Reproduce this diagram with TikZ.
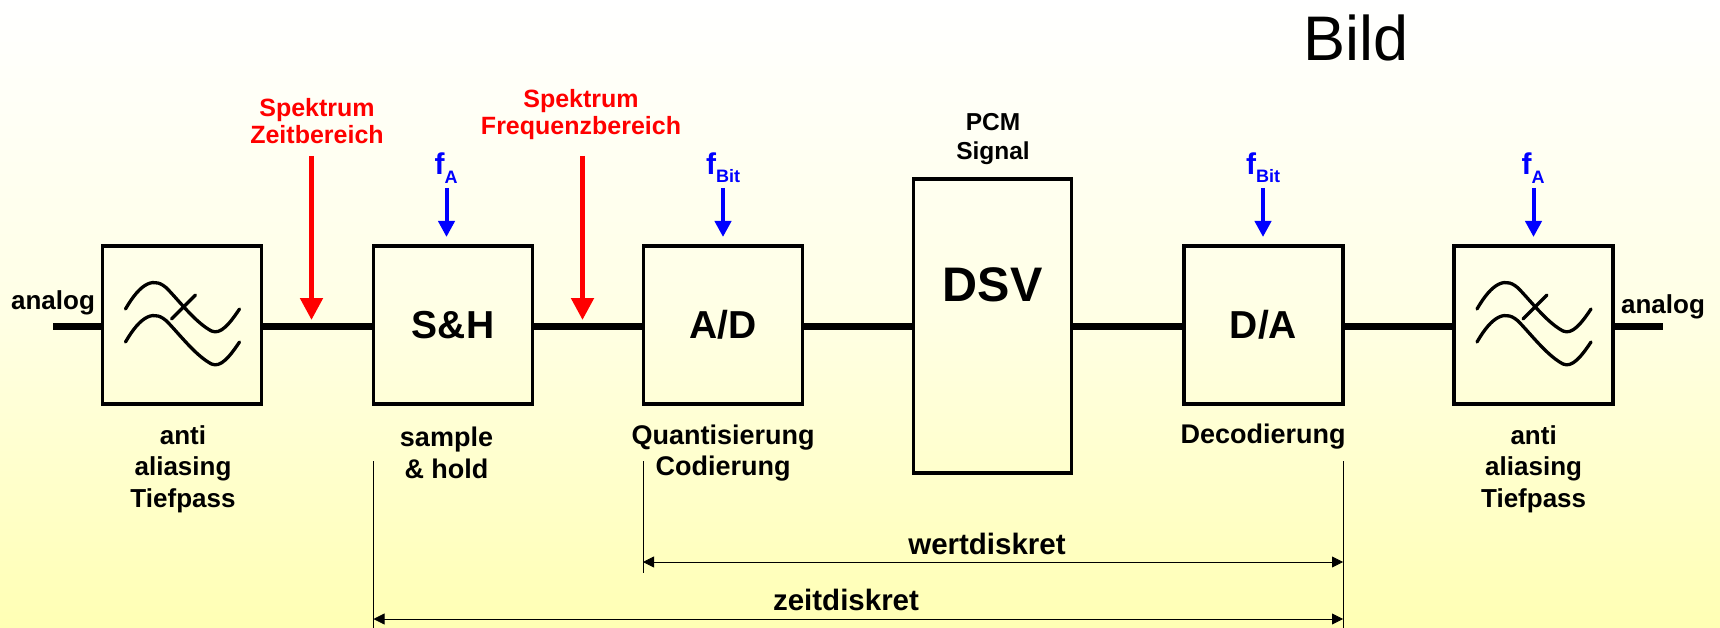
\documentclass[tikz,border=0pt]{standalone}
\usepackage{fontspec}
\setmainfont{Liberation Sans}
\usetikzlibrary{arrows.meta}
\definecolor{bgtop}{HTML}{FFFFFF}
\definecolor{bgbot}{HTML}{FFFFB4}
\newcommand{\fsz}[2]{\fontsize{#1}{#2}\selectfont\bfseries}
\newcommand{\freq}[1]{f\raisebox{-0.28em}{\fontsize{18}{18}\selectfont #1}}
\tikzset{
  blockbox/.style={draw=black,line width=3.4pt,minimum height=158pt,minimum width=159pt,outer sep=0pt,inner sep=0pt},
  sig/.style={line width=7pt,draw=black},
  lab/.style={align=center,inner sep=0pt,text=black,font=\fsz{26}{31.5}},
  wide/.style={align=center,inner sep=0pt,text=black,font=\fsz{27}{31.5}},
  redlab/.style={align=center,inner sep=0pt,text=red,font=\fsz{25}{27}},
  bluelab/.style={inner sep=0pt,text=blue,font=\fsz{30}{30}},
  redarrow/.style={draw=red,line width=5pt,-{Triangle[length=22pt,width=22pt]}},
  bluearrow/.style={draw=blue,line width=4pt,-{Triangle[length=16pt,width=16pt]}},
  dim/.style={draw=black,line width=0.8pt},
  dimarrow/.style={draw=black,line width=0.8pt,{Triangle[length=11pt,width=11pt]}-{Triangle[length=11pt,width=11pt]}},
  pics/lowpass/.style={code={
    \draw[line width=3.3pt,line cap=round,black]
      (-57,-16) .. controls (-42,-42) and (-28,-50) .. (-14,-35)
      .. controls (0,-20) and (14,-2) .. (29,6)
      .. controls (38,10) and (47,-1) .. (57,-16);
    \draw[line width=3.3pt,line cap=round,black]
      (-57,17) .. controls (-42,-9) and (-28,-17) .. (-14,-2)
      .. controls (0,13) and (14,31) .. (29,39)
      .. controls (38,43) and (47,32) .. (57,17);
    \draw[line width=3.3pt,line cap=round,black] (-11,-6) -- (13,-30);
  }}
}
\begin{document}
\begin{tikzpicture}[x=1pt,y=-1pt]
\useasboundingbox (0,0) rectangle (1720,628);
\shade[top color=bgtop,bottom color=bgbot,middle color=bgtop!65!bgbot] (0,0) rectangle (1720,628);

\node[blockbox] (b1) at (182,325) {};
\node[blockbox,font=\fsz{39}{39}] (b2) at (453,325) {S\&H};
\node[blockbox,font=\fsz{39}{39}] (b3) at (723,325) {A/D};
\node[blockbox,minimum height=294pt,minimum width=158pt] (b4) at (992.5,326) {};
\node[blockbox,font=\fsz{39}{39}] (b5) at (1263.5,325) {D/A};
\node[blockbox] (b6) at (1533.5,325) {};
\node[inner sep=0pt,font=\fsz{48.5}{48.5}] (dsv) at (992.5,285) {DSV};

\pic at (182.5,325) {lowpass};
\pic at (1534,325) {lowpass};

\coordinate (inL) at (53,326);
\coordinate (outR) at (1663,326);
\draw[sig] (inL) -- (inL -| b1.west);
\draw[sig] (b1.east |- inL) -- (b2.west |- inL);
\draw[sig] (b2.east |- inL) -- (b3.west |- inL);
\draw[sig] (b3.east |- inL) -- (b4.west |- inL);
\draw[sig] (b4.east |- inL) -- (b5.west |- inL);
\draw[sig] (b5.east |- inL) -- (b6.west |- inL);
\draw[sig] (b6.east |- inL) -- (outR);

\node[lab] (aL) at (53,303) {analog};
\node[lab] (aR) at (1663,307) {analog};
\node[inner sep=0pt,font=\fontsize{63}{63}\selectfont] (bild) at (1356,38) {Bild};

\node[lab] (t1) at (183,469) {anti\\aliasing\\Tiefpass};
\node[wide] (t2) at (446.5,453) {sample\\\& hold};
\node[wide] (t3) at (723,453) {Quantisierung\\Codierung};
\node[wide] (t5) at (1263,437) {Decodierung};
\node[lab] (t6) at (1533.6,469) {anti\\aliasing\\Tiefpass};
\node[lab,font=\fsz{24.5}{29.5}] (pcm) at (993,139) {PCM\\Signal};

\node[redlab] (sz) at (317,121) {Spektrum\\Zeitbereich};
\node[redlab] (sf) at (581,115) {Spektrum\\Frequenzbereich};
\coordinate (rz) at (311.5,156);
\coordinate (rze) at (311.5,320);
\coordinate (rf) at (582.5,156);
\coordinate (rfe) at (582.5,320);
\draw[redarrow] (rz) -- (rze);
\draw[redarrow] (rf) -- (rfe);

\node[bluelab] (f1) at (446,168) {\freq{A}};
\node[bluelab] (f2) at (723,168) {\freq{Bit}};
\node[bluelab] (f3) at (1263,168) {\freq{Bit}};
\node[bluelab] (f4) at (1533,168) {\freq{A}};
\draw[bluearrow] (446.5,188) -- (446.5,237);
\draw[bluearrow] (723,188) -- (723,237);
\draw[bluearrow] (1263,188) -- (1263,237);
\draw[bluearrow] (1533.5,188) -- (1533.5,237);

\coordinate (zL) at (373.5,461);
\coordinate (wL) at (643,461);
\coordinate (R) at (1343,461);
\coordinate (zLb) at (373.5,628);
\coordinate (wLb) at (643,573);
\coordinate (Rb) at (1343,628);
\draw[dim] (zL) -- (zLb);
\draw[dim] (wL) -- (wLb);
\draw[dim] (R) -- (Rb);
\draw[dimarrow] (643,562) -- (1343,562);
\draw[dimarrow] (373.5,619) -- (1343,619);
\node[lab,font=\fsz{29.5}{29.5}] (wd) at (987,544) {wertdiskret};
\node[lab,font=\fsz{29.5}{29.5}] (zd) at (846,600) {zeitdiskret};
\end{tikzpicture}
\end{document}
